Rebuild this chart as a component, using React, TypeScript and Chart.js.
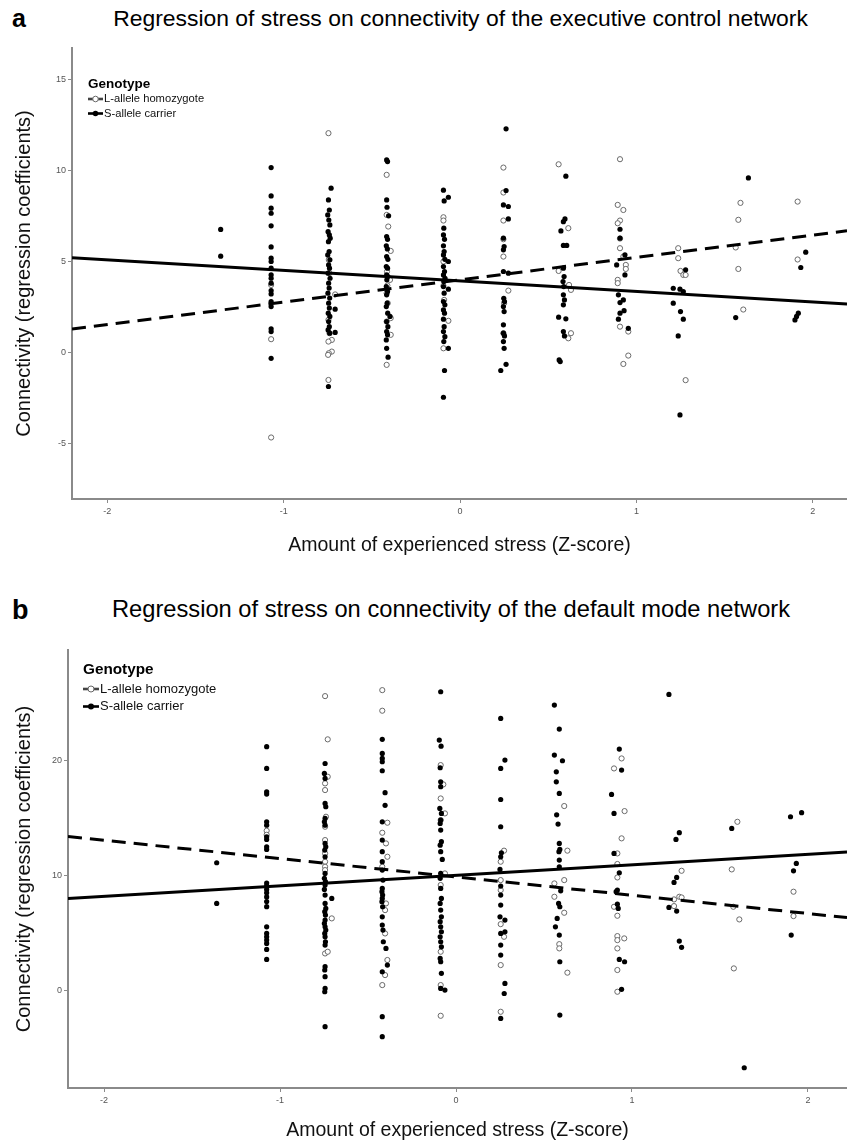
import React, { useEffect, useRef } from "react";
import { Chart, registerables } from "chart.js";

Chart.register(...registerables);

const FONT = '"Liberation Sans", Arial, Helvetica, sans-serif';
const NARROW = '"Liberation Sans Narrow", "Arial Narrow", "Liberation Sans", Arial, sans-serif';
const AXIS = "#8a8a8a";

// ---------- ticks & labels ----------
const xTicks = [-2, -1, 0, 1, 2];
const aYTicks = [-5, 0, 5, 10, 15];
const bYTicks = [0, 10, 20];
const legendTitle = "Genotype";
const seriesNames = ["L-allele homozygote", "S-allele carrier"];
const xTitle = "Amount of experienced stress (Z-score)";
const yTitle = "Connectivity (regression coefficients)";
const titleA = "Regression of stress on connectivity of the executive control network";
const titleB = "Regression of stress on connectivity of the default mode network";

// ---------- regression lines (endpoints) ----------
const aFitX = [-2.2, 2.194];
const aFitL = [1.3, 6.7];
const aFitS = [5.22, 2.68];
const bFitX = [-2.205, 2.222];
const bFitL = [13.35, 6.3];
const bFitS = [7.95, 12.0];

// ---------- panel a: S-allele carrier (filled) ----------
const aS: [number, number][] = [
  [-1.357, 6.77], [-1.357, 5.3],
  [-1.071, 10.17], [-1.071, 8.61], [-1.071, 7.94], [-1.071, 7.66], [-1.071, 6.97], [-1.071, 5.81], [-1.071, 5.19], [-1.071, 5.01], [-1.071, 4.64], [-1.071, 4.27], [-1.071, 4.09], [-1.071, 3.82], [-1.071, 3.41], [-1.071, 3.23], [-1.071, 2.81], [-1.071, 2.53], [-1.071, 1.31], [-1.071, 1.16], [-1.071, -0.31],
  [-0.731, 9.04], [-0.746, 8.39], [-0.741, 7.84], [-0.75, 7.57], [-0.744, 7.29], [-0.738, 7.02], [-0.748, 6.65], [-0.741, 6.47], [-0.736, 6.29], [-0.746, 6.1], [-0.742, 5.56], [-0.75, 5.37], [-0.738, 5.1], [-0.745, 4.82], [-0.74, 4.64], [-0.748, 4.37], [-0.737, 4.09], [-0.745, 3.82], [-0.742, 3.55], [-0.749, 3.27], [-0.739, 3.0], [-0.745, 2.72], [-0.741, 2.45], [-0.747, 2.17], [-0.738, 1.99], [-0.745, 1.71], [-0.741, 1.43], [-0.748, 1.25], [-0.739, 1.07], [-0.746, -1.86], [-0.708, 2.39], [-0.708, 1.11],
  [-0.416, 10.59], [-0.411, 10.5], [-0.416, 8.39], [-0.414, 7.99], [-0.405, 7.52], [-0.416, 6.38], [-0.411, 6.23], [-0.418, 5.87], [-0.412, 5.7], [-0.416, 5.28], [-0.409, 5.13], [-0.418, 4.73], [-0.411, 4.64], [-0.416, 4.27], [-0.409, 4.18], [-0.415, 4.0], [-0.418, 3.63], [-0.411, 3.36], [-0.416, 3.18], [-0.413, 2.72], [-0.418, 2.53], [-0.41, 2.17], [-0.397, 1.99], [-0.416, 1.71], [-0.409, 1.43], [-0.416, 1.16], [-0.411, 0.98], [-0.418, 0.7], [-0.416, 0.24], [-0.408, -0.25],
  [-0.094, 8.93], [-0.09, 8.34], [-0.066, 8.54], [-0.092, 6.84], [-0.094, 6.47], [-0.088, 6.23], [-0.094, 5.87], [-0.09, 5.56], [-0.094, 5.37], [-0.086, 5.13], [-0.066, 5.01], [-0.094, 4.73], [-0.088, 4.46], [-0.094, 4.27], [-0.085, 4.09], [-0.092, 3.91], [-0.094, 3.63], [-0.066, 3.49], [-0.09, 3.27], [-0.094, 2.81], [-0.086, 2.63], [-0.094, 2.35], [-0.088, 2.17], [-0.094, 1.84], [-0.09, 1.43], [-0.094, 1.16], [-0.086, 0.88], [-0.092, 0.61], [-0.066, 0.24], [-0.088, -0.98], [-0.094, -2.45],
  [0.261, 12.3], [0.261, 8.91], [0.246, 8.12], [0.274, 8.03], [0.274, 7.35], [0.246, 6.29], [0.25, 5.83], [0.246, 5.65], [0.246, 4.46], [0.274, 4.37], [0.248, 2.99], [0.252, 2.81], [0.246, 2.53], [0.25, 2.26], [0.246, 1.53], [0.246, 1.07], [0.252, 0.92], [0.246, 0.61], [0.25, 0.24], [0.261, -0.64], [0.231, -0.98],
  [0.6, 9.7], [0.595, 7.35], [0.586, 7.2], [0.572, 6.69], [0.586, 5.89], [0.605, 5.89], [0.586, 4.64], [0.59, 4.18], [0.584, 3.91], [0.588, 3.63], [0.586, 3.18], [0.592, 2.9], [0.586, 2.63], [0.559, 1.95], [0.6, 1.86], [0.586, 1.16], [0.592, 0.92], [0.562, -0.4], [0.568, -0.49],
  [0.907, 6.78], [0.907, 6.29], [0.935, 5.37], [0.888, 4.82], [0.935, 4.27], [0.898, 3.18], [0.926, 2.9], [0.907, 2.75], [0.93, 2.31], [0.907, 2.17], [0.898, 1.84], [0.954, 1.34],
  [1.279, 4.55], [1.209, 3.54], [1.247, 3.49], [1.266, 3.36], [1.209, 2.72], [1.25, 2.26], [1.266, 1.84], [1.237, 0.92], [1.247, -3.42],
  [1.635, 9.6], [1.563, 1.93],
  [1.96, 5.52], [1.932, 4.68], [1.918, 2.17], [1.908, 1.99], [1.899, 1.8],
];

// ---------- panel a: L-allele homozygote (open) ----------
const aL: [number, number][] = [
  [-1.071, 3.72], [-1.071, 0.74], [-1.071, -4.66],
  [-0.746, 12.06], [-0.744, 5.1], [-0.74, 4.37], [-0.708, 3.2], [-0.746, 1.8], [-0.74, 1.07], [-0.727, 0.7], [-0.746, 0.61], [-0.727, 0.06], [-0.744, -0.03], [-0.748, -0.12], [-0.746, -1.5],
  [-0.416, 9.77], [-0.416, 7.57], [-0.407, 6.93], [-0.393, 5.59], [-0.414, 4.46], [-0.397, 4.0], [-0.412, 3.69], [-0.416, 3.27], [-0.41, 2.72], [-0.393, 1.9], [-0.416, 1.71], [-0.393, 0.98], [-0.416, -0.67],
  [-0.094, 7.44], [-0.094, 7.26], [-0.094, 5.01], [-0.094, 3.67], [-0.09, 2.9], [-0.066, 1.75], [-0.094, 0.24],
  [0.246, 10.17], [0.246, 8.8], [0.246, 7.26], [0.246, 6.23], [0.246, 5.28], [0.274, 3.41], [0.25, 2.72], [0.246, 1.07],
  [0.559, 10.35], [0.614, 6.84], [0.559, 4.49], [0.618, 3.72], [0.629, 3.45], [0.629, 1.07], [0.614, 0.79],
  [0.907, 10.63], [0.894, 8.12], [0.926, 7.84], [0.907, 7.26], [0.894, 7.11], [0.907, 6.27], [0.907, 5.74], [0.926, 5.28], [0.94, 4.82], [0.94, 4.6], [0.894, 4.0], [0.894, 3.82], [0.907, 1.43], [0.954, 1.16], [0.954, -0.16], [0.926, -0.62],
  [1.237, 5.74], [1.237, 5.19], [1.25, 4.49], [1.266, 4.27], [1.279, 4.27], [1.279, -1.51],
  [1.59, 8.23], [1.578, 7.3], [1.563, 5.78], [1.578, 4.6], [1.606, 2.37],
  [1.914, 8.3], [1.914, 5.12],
];

// ---------- panel b: S-allele carrier (filled) ----------
const bS: [number, number][] = [
  [-1.36, 11.07], [-1.36, 7.53],
  [-1.076, 21.16], [-1.076, 19.27], [-1.076, 17.24], [-1.076, 17.04], [-1.076, 14.63], [-1.076, 14.34], [-1.076, 13.33], [-1.076, 13.1], [-1.076, 12.46], [-1.076, 12.23], [-1.076, 9.3], [-1.076, 9.05], [-1.076, 8.75], [-1.076, 8.45], [-1.076, 8.1], [-1.076, 7.7], [-1.076, 7.25], [-1.076, 5.5], [-1.076, 4.92], [-1.076, 4.63], [-1.076, 4.34], [-1.076, 4.05], [-1.076, 3.53], [-1.076, 2.66],
  [-0.744, 19.7], [-0.748, 18.84], [-0.744, 18.4], [-0.744, 16.23], [-0.74, 15.94], [-0.744, 14.92], [-0.748, 14.63], [-0.744, 14.34], [-0.744, 12.75], [-0.74, 12.46], [-0.746, 12.17], [-0.744, 11.59], [-0.744, 10.14], [-0.748, 9.71], [-0.742, 9.42], [-0.744, 9.13], [-0.748, 8.75], [-0.744, 8.26], [-0.706, 7.97], [-0.744, 7.53], [-0.74, 7.1], [-0.746, 6.81], [-0.742, 6.52], [-0.744, 6.08], [-0.748, 5.79], [-0.744, 5.5], [-0.74, 5.21], [-0.746, 4.92], [-0.744, 4.63], [-0.742, 4.2], [-0.744, 3.91], [-0.744, 2.03], [-0.746, 1.74], [-0.744, 1.16], [-0.744, 0.14], [-0.746, -0.15], [-0.744, -3.19],
  [-0.419, 21.8], [-0.419, 20.58], [-0.419, 20.14], [-0.419, 19.85], [-0.419, 19.07], [-0.403, 17.16], [-0.403, 16.06], [-0.419, 14.63], [-0.419, 13.04], [-0.419, 12.03], [-0.419, 11.16], [-0.419, 10.43], [-0.415, 9.56], [-0.419, 8.84], [-0.421, 8.55], [-0.417, 8.26], [-0.419, 7.97], [-0.421, 7.68], [-0.417, 7.24], [-0.419, 6.37], [-0.419, 5.65], [-0.415, 5.21], [-0.413, 4.2], [-0.398, 3.62], [-0.39, 2.17], [-0.419, 1.59], [-0.419, -2.32], [-0.419, -4.06],
  [-0.087, 25.94], [-0.095, 21.74], [-0.085, 21.21], [-0.09, 19.33], [-0.087, 18.11], [-0.087, 17.68], [-0.092, 15.79], [-0.083, 15.36], [-0.087, 14.78], [-0.09, 14.49], [-0.087, 13.91], [-0.083, 12.9], [-0.09, 12.6], [-0.087, 12.03], [-0.078, 11.36], [-0.087, 10.14], [-0.09, 9.71], [-0.087, 8.84], [-0.083, 7.97], [-0.09, 7.53], [-0.087, 6.95], [-0.083, 6.37], [-0.09, 5.94], [-0.087, 5.5], [-0.083, 5.07], [-0.09, 4.63], [-0.087, 4.2], [-0.083, 3.76], [-0.09, 2.75], [-0.087, 2.46], [-0.083, 1.45], [-0.087, 0.14], [-0.063, 0.0],
  [0.254, 23.62], [0.278, 20.0], [0.254, 19.27], [0.254, 16.57], [0.254, 14.2], [0.258, 11.94], [0.254, 11.59], [0.25, 10.49], [0.254, 9.04], [0.254, 8.26], [0.254, 7.39], [0.25, 6.37], [0.278, 6.08], [0.254, 4.92], [0.278, 5.07], [0.254, 3.91], [0.254, 3.04], [0.278, 0.57], [0.274, -0.3], [0.254, -2.47],
  [0.559, 24.78], [0.587, 22.69], [0.559, 20.43], [0.605, 19.94], [0.57, 18.98], [0.57, 18.11], [0.587, 17.1], [0.572, 15.24], [0.58, 14.43], [0.587, 12.75], [0.59, 12.23], [0.585, 12.03], [0.587, 11.3], [0.587, 10.72], [0.595, 8.63], [0.583, 7.53], [0.59, 7.24], [0.575, 6.23], [0.565, 5.5], [0.587, 4.78], [0.59, 2.46], [0.59, -2.18],
  [0.928, 20.95], [0.941, 19.13], [0.884, 17.01], [0.898, 15.36], [0.898, 11.88], [0.928, 10.2], [0.917, 8.69], [0.91, 8.55], [0.917, 7.47], [0.922, 7.1], [0.928, 2.66], [0.958, 2.46], [0.941, 0.06],
  [1.21, 25.71], [1.269, 13.68], [1.25, 13.1], [1.254, 9.79], [1.239, 9.36], [1.21, 7.18], [1.254, 6.87], [1.269, 4.26], [1.282, 3.71],
  [1.567, 14.05], [1.638, -6.76],
  [1.901, 15.07], [1.964, 15.42], [1.934, 11.01], [1.918, 10.37], [1.905, 4.78],
];

// ---------- panel b: L-allele homozygote (open) ----------
const bL: [number, number][] = [
  [-1.076, 13.85], [-1.076, 13.5],
  [-0.744, 25.56], [-0.729, 21.8], [-0.729, 18.55], [-0.744, 17.97], [-0.744, 17.39], [-0.739, 15.07], [-0.744, 14.2], [-0.744, 13.04], [-0.744, 11.88], [-0.744, 11.16], [-0.744, 10.72], [-0.744, 10.43], [-0.706, 6.23], [-0.744, 3.18], [-0.729, 3.33],
  [-0.419, 26.08], [-0.419, 24.29], [-0.39, 14.55], [-0.419, 13.68], [-0.398, 12.75], [-0.39, 11.59], [-0.419, 10.72], [-0.398, 7.53], [-0.403, 6.95], [-0.403, 4.92], [-0.39, 2.61], [-0.403, 1.3], [-0.419, 0.43],
  [-0.087, 19.56], [-0.072, 17.88], [-0.087, 16.66], [-0.063, 15.36], [-0.087, 14.78], [-0.063, 10.14], [-0.087, 9.13], [-0.087, 3.33], [-0.087, 0.43], [-0.087, -2.24],
  [0.273, 12.12], [0.254, 11.16], [0.254, 9.56], [0.254, 8.69], [0.254, 5.73], [0.273, 4.63], [0.254, 2.17], [0.254, -1.89],
  [0.615, 16.0], [0.633, 12.12], [0.615, 9.56], [0.559, 9.27], [0.559, 8.11], [0.615, 6.72], [0.587, 3.99], [0.587, 3.62], [0.633, 1.51],
  [0.941, 20.14], [0.898, 19.27], [0.958, 15.56], [0.941, 13.19], [0.917, 11.88], [0.917, 10.96], [0.917, 9.79], [0.898, 7.24], [0.917, 6.46], [0.917, 4.69], [0.917, 4.34], [0.956, 4.49], [0.917, 3.62], [0.917, 1.74], [0.917, -0.15],
  [1.282, 10.37], [1.269, 8.11], [1.282, 8.05], [1.239, 7.88], [1.239, 7.3],
  [1.599, 14.63], [1.567, 10.49], [1.576, 7.24], [1.61, 6.14], [1.579, 1.88],
  [1.918, 8.55], [1.918, 6.43],
];

type PanelCfg = {
  top: number;
  height: number;
  left: number;
  areaTop: number;
  areaBottom: number;
  xMin: number;
  xMax: number;
  yMin: number;
  yMax: number;
  yTicks: number[];
  xTitlePad: number;
  S: [number, number][];
  L: [number, number][];
  fitX: number[];
  fitS: number[];
  fitL: number[];
  legend: { x: number; y: number; dy1: number; dy2: number; titleSize: number; itemSize: number; sym: number; r: number };
};

const panelA: PanelCfg = {
  top: 0, height: 570, left: 72, areaTop: 48, areaBottom: 499,
  xMin: -2.2, xMax: 2.194, yMin: -8.04, yMax: 16.74, yTicks: aYTicks, xTitlePad: 12.3,
  S: aS, L: aL, fitX: aFitX, fitS: aFitS, fitL: aFitL,
  legend: { x: 88, y: 84, dy1: 15, dy2: 29.5, titleSize: 13.5, itemSize: 11.2, sym: 15, r: 2.8 },
};

const panelB: PanelCfg = {
  top: 590, height: 554, left: 68, areaTop: 60, areaBottom: 498,
  xMin: -2.205, xMax: 2.222, yMin: -8.52, yMax: 29.57, yTicks: bYTicks, xTitlePad: 1.3,
  S: bS, L: bL, fitX: bFitX, fitS: bFitS, fitL: bFitL,
  legend: { x: 83, y: 80, dy1: 19, dy2: 36.5, titleSize: 15.3, itemSize: 13, sym: 16, r: 3 },
};

function Panel({ cfg }: { cfg: PanelCfg }) {
  const ref = useRef<HTMLCanvasElement>(null);
  useEffect(() => {
    const canvas = ref.current as HTMLCanvasElement;
    const lg = cfg.legend;
    const legendPlugin = {
      id: "genotypeLegend",
      afterDraw(chart: any) {
        const ctx = chart.ctx as CanvasRenderingContext2D;
        ctx.save();
        ctx.textBaseline = "middle";
        ctx.textAlign = "left";
        ctx.fillStyle = "#000";
        ctx.font = `bold ${lg.titleSize}px ${FONT}`;
        ctx.fillText(legendTitle, lg.x, lg.y);
        const rows = [
          { name: seriesNames[0], open: true, y: lg.y + lg.dy1 },
          { name: seriesNames[1], open: false, y: lg.y + lg.dy2 },
        ];
        rows.forEach((r) => {
          ctx.strokeStyle = r.open ? "#444" : "#000";
          ctx.lineWidth = 2.6;
          ctx.beginPath();
          ctx.moveTo(lg.x, r.y);
          ctx.lineTo(lg.x + lg.sym, r.y);
          ctx.stroke();
          ctx.beginPath();
          ctx.arc(lg.x + lg.sym / 2, r.y, lg.r, 0, Math.PI * 2);
          if (r.open) {
            ctx.fillStyle = "#fff";
            ctx.fill();
            ctx.lineWidth = 1;
            ctx.strokeStyle = "#666";
            ctx.stroke();
          } else {
            ctx.fillStyle = "#000";
            ctx.fill();
          }
          ctx.fillStyle = "#111";
          ctx.font = `${lg.itemSize}px ${FONT}`;
          ctx.fillText(r.name, lg.x + lg.sym + 1, r.y);
        });
        ctx.restore();
      },
    };
    const toPts = (arr: [number, number][]) => arr.map(([x, y]) => ({ x, y }));
    const fit = (xs: number[], ys: number[]) => xs.map((x, i) => ({ x, y: ys[i] }));
    const axisCommon = {
      type: "linear" as const,
      grid: { drawOnChartArea: false, drawTicks: true, tickLength: 4, color: AXIS, lineWidth: 1 },
      border: { display: true, color: AXIS, width: 2 },
    };
    const chart = new Chart(canvas, {
      type: "scatter",
      data: {
        datasets: [
          { label: seriesNames[1] + " fit", data: fit(cfg.fitX, cfg.fitS), showLine: true, borderColor: "#000", borderWidth: 3, pointRadius: 0, order: 0 } as any,
          { label: seriesNames[0] + " fit", data: fit(cfg.fitX, cfg.fitL), showLine: true, borderColor: "#000", borderWidth: 3, borderDash: [14, 8], pointRadius: 0, order: 1 } as any,
          { label: seriesNames[1], data: toPts(cfg.S), pointRadius: 2.6, pointHoverRadius: 2.6, backgroundColor: "#000", borderColor: "#000", borderWidth: 0, order: 2 },
          { label: seriesNames[0], data: toPts(cfg.L), pointRadius: 2.6, pointHoverRadius: 2.6, backgroundColor: "#fff", borderColor: "#6a6a6a", borderWidth: 1, order: 3 },
        ],
      },
      options: {
        animation: false,
        responsive: false,
        events: [],
        layout: { autoPadding: false, padding: { top: cfg.areaTop, left: 0, right: 0, bottom: 0 } },
        plugins: { legend: { display: false }, tooltip: { enabled: false }, title: { display: false } },
        scales: {
          x: {
            ...axisCommon,
            min: cfg.xMin,
            max: cfg.xMax,
            afterBuildTicks: (s: any) => { s.ticks = xTicks.map((v) => ({ value: v })); },
            afterFit: (s: any) => { s.height = cfg.height - cfg.areaBottom; },
            ticks: { color: "#555", font: { size: 9, family: NARROW }, padding: 3, autoSkip: false, maxRotation: 0, callback: (v: any) => String(v) },
            title: { display: true, text: xTitle, color: "#111", font: { size: 19.5, family: FONT }, padding: { top: 0, bottom: cfg.xTitlePad } },
          },
          y: {
            ...axisCommon,
            min: cfg.yMin,
            max: cfg.yMax,
            afterBuildTicks: (s: any) => { s.ticks = cfg.yTicks.map((v) => ({ value: v })); },
            afterFit: (s: any) => { s.width = cfg.left; },
            ticks: { color: "#555", font: { size: 9, family: NARROW }, padding: 2, autoSkip: false, callback: (v: any) => String(v) },
            title: { display: true, text: yTitle, color: "#111", font: { size: 20, family: FONT }, padding: { top: 12, bottom: 0 } },
          },
        },
      },
      plugins: [legendPlugin],
    } as any);
    return () => chart.destroy();
  }, [cfg]);
  return (
    <canvas
      ref={ref}
      width={847}
      height={cfg.height}
      style={{ position: "absolute", left: 0, top: cfg.top, width: 847, height: cfg.height }}
    />
  );
}

function Heading({ letter, text, cy, cx, size, letterSize }: { letter: string; text: string; cy: number; cx: number; size: number; letterSize: number }) {
  return (
    <>
      <div style={{ position: "absolute", left: 12, top: cy - letterSize / 2, height: letterSize, lineHeight: `${letterSize}px`, fontFamily: FONT, fontWeight: "bold", fontSize: letterSize, color: "#000" }}>{letter}</div>
      <div style={{ position: "absolute", left: cx, top: cy - size / 2, height: size, lineHeight: `${size}px`, transform: "translateX(-50%)", whiteSpace: "nowrap", fontFamily: FONT, fontSize: size, color: "#000" }}>{text}</div>
    </>
  );
}

export default function App() {
  return (
    <div style={{ position: "absolute", left: 0, top: 0, width: 847, height: 1144, background: "#fff", overflow: "hidden" }}>
      <Heading letter="a" text={titleA} cx={460.5} cy={18} size={22.9} letterSize={25} />
      <Panel cfg={panelA} />
      <Heading letter="b" text={titleB} cx={451} cy={610} size={23.7} letterSize={27} />
      <Panel cfg={panelB} />
    </div>
  );
}
